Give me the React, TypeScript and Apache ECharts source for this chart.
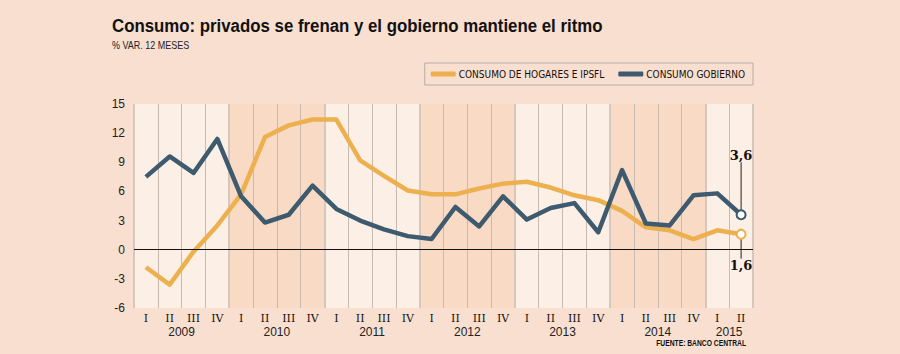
import React, { useEffect, useRef } from "react";
import * as echarts from "echarts";

const categories = [
  "2009 I", "2009 II", "2009 III", "2009 IV",
  "2010 I", "2010 II", "2010 III", "2010 IV",
  "2011 I", "2011 II", "2011 III", "2011 IV",
  "2012 I", "2012 II", "2012 III", "2012 IV",
  "2013 I", "2013 II", "2013 III", "2013 IV",
  "2014 I", "2014 II", "2014 III", "2014 IV",
  "2015 I", "2015 II",
];
const years = ["2009", "2010", "2011", "2012", "2013", "2014", "2015"];
const yearCenters = [2, 6, 10, 14, 18, 22, 25];
const yTicks = [-6, -3, 0, 3, 6, 9, 12, 15];

const hogares = [-1.8, -3.6, -0.2, 2.5, 5.7, 11.6, 12.8, 13.4, 13.4, 9.2, 7.6, 6.1, 5.7, 5.7, 6.3, 6.8, 7.0, 6.4, 5.6, 5.1, 4.0, 2.3, 2.0, 1.1, 2.0, 1.6];
const gobierno = [7.5, 9.6, 7.9, 11.4, 5.5, 2.8, 3.6, 6.6, 4.2, 3.0, 2.1, 1.4, 1.1, 4.4, 2.4, 5.5, 3.1, 4.3, 4.8, 1.8, 8.2, 2.7, 2.5, 5.6, 5.8, 3.6];

const ORANGE = "#edb04f";
const BLUE = "#3e5a6e";
const BG = "#f9dfcf";
const COND = "'DejaVu Sans Condensed', 'Liberation Sans Narrow', 'Liberation Sans', sans-serif";

function withEnd(values: number[], color: string, pos: "top" | "bottom") {
  const last = values.length - 1;
  return values.map((v, i) =>
    i === last
      ? {
          value: v,
          symbol: "circle",
          symbolSize: 9,
          itemStyle: { color: "#fff", borderColor: color, borderWidth: 2 },
          label: {
            show: true,
            position: pos,
            formatter: (p: any) => String(p.value).replace(".", ","),
            fontFamily: "'DejaVu Serif', serif",
            fontWeight: "bold",
            fontSize: 13,
            color: "#111",
          },
        }
      : { value: v, symbol: "none" }
  );
}

export default function App() {
  const ref = useRef<HTMLDivElement>(null);
  useEffect(() => {
    if (!ref.current) return;
    const chart = echarts.init(ref.current, null, { renderer: "svg" });
    const lightGrid = "#d3c2b7";
    const darkGrid = "#6a6a6a";
    chart.setOption({
      animation: false,
      backgroundColor: BG,
      graphic: [
        {
          type: "text",
          x: 112,
          y: 16,
          scaleX: 0.885,
          style: {
            text: "Consumo: privados se frenan y el gobierno mantiene el ritmo",
            font: "bold 19px 'Liberation Sans', sans-serif",
            fill: "#111",
          },
        },
        {
          type: "text",
          x: 112,
          y: 40,
          scaleX: 0.9,
          style: {
            text: "% VAR. 12 MESES",
            font: "10px 'Liberation Sans', sans-serif",
            fill: "#222",
          },
        },
        {
          type: "text",
          x: 746,
          y: 339,
          scaleX: 0.75,
          style: {
            text: "FUENTE: BANCO CENTRAL",
            font: "bold 9px 'Liberation Sans', sans-serif",
            fill: "#111",
            align: "right",
          },
        },
      ],
      legend: {
        right: 147,
        top: 63,
        padding: [6, 8, 6, 6],
        borderColor: "#b9aca3",
        borderWidth: 1,
        itemWidth: 25,
        itemHeight: 5,
        itemGap: 14,
        icon: "roundRect",
        textStyle: { fontFamily: COND, fontSize: 10, color: "#111", padding: [0, 0, 0, -2] },
        data: ["CONSUMO DE HOGARES E IPSFL", "CONSUMO GOBIERNO"],
      },
      grid: { left: 134, right: 147, top: 104, bottom: 46 },
      xAxis: [
        {
          type: "category",
          data: categories,
          boundaryGap: true,
          axisLine: { show: false },
          axisTick: { show: false },
          axisLabel: {
            interval: 0,
            margin: 5,
            formatter: (v: string) => v.split(" ")[1],
            fontFamily: "'DejaVu Serif', serif",
            fontSize: 11,
            color: "#111",
          },
          splitLine: { show: true, lineStyle: { color: "#c9bab1", width: 1 } },
          splitArea: {
            show: true,
            areaStyle: { color: ["#fcefe6", "#fcefe6", "#fcefe6", "#fcefe6", "#f8dac5", "#f8dac5", "#f8dac5", "#f8dac5"] },
          },
        },
        {
          type: "value",
          min: 0,
          max: 26,
          interval: 4,
          position: "bottom",
          axisLine: { show: false },
          axisTick: { show: false },
          axisLabel: {
            customValues: yearCenters,
            margin: 18,
            formatter: (v: number) => years[yearCenters.indexOf(v)] ?? "",
            fontFamily: "'Liberation Sans', sans-serif",
            fontSize: 12,
            color: "#222",
          },
          splitLine: { show: true, lineStyle: { color: "#d6c7bd", width: 2 } },
        },
      ],
      yAxis: {
        type: "value",
        min: -6,
        max: 15,
        interval: 3,
        axisLine: { show: false },
        axisTick: { show: false },
        axisLabel: {
          margin: 9,
          fontFamily: "'Liberation Sans', sans-serif",
          fontSize: 12,
          color: "#222",
          formatter: (v: number) => (yTicks.includes(v) ? String(v) : ""),
        },
        splitLine: {
          show: true,
          lineStyle: {
            type: [2, 2],
            width: 1,
            color: ["rgba(0,0,0,0)", lightGrid, darkGrid, darkGrid, darkGrid, darkGrid, lightGrid, lightGrid],
          },
        },
      },
      series: [
        {
          name: "CONSUMO DE HOGARES E IPSFL",
          type: "line",
          xAxisIndex: 0,
          data: withEnd(hogares, ORANGE, "bottom"),
          color: ORANGE,
          lineStyle: { width: 4.5, color: ORANGE, join: "round" },
          labelLayout: { dy: 14 },
          labelLine: { show: true, lineStyle: { color: "#222", width: 1 } },
          z: 3,
        },
        {
          name: "CONSUMO GOBIERNO",
          type: "line",
          xAxisIndex: 0,
          data: withEnd(gobierno, BLUE, "top"),
          color: BLUE,
          lineStyle: { width: 4.5, color: BLUE, join: "round" },
          labelLayout: { dy: -42 },
          labelLine: { show: true, lineStyle: { color: "#222", width: 1 } },
          markLine: {
            silent: true,
            symbol: "none",
            label: { show: false },
            lineStyle: { type: "solid", color: "#111", width: 1 },
            data: [{ yAxis: 0 }],
          },
          z: 4,
        },
      ],
    });
    return () => chart.dispose();
  }, []);
  return <div ref={ref} style={{ position: "fixed", left: 0, top: 0, width: 900, height: 354 }} />;
}
